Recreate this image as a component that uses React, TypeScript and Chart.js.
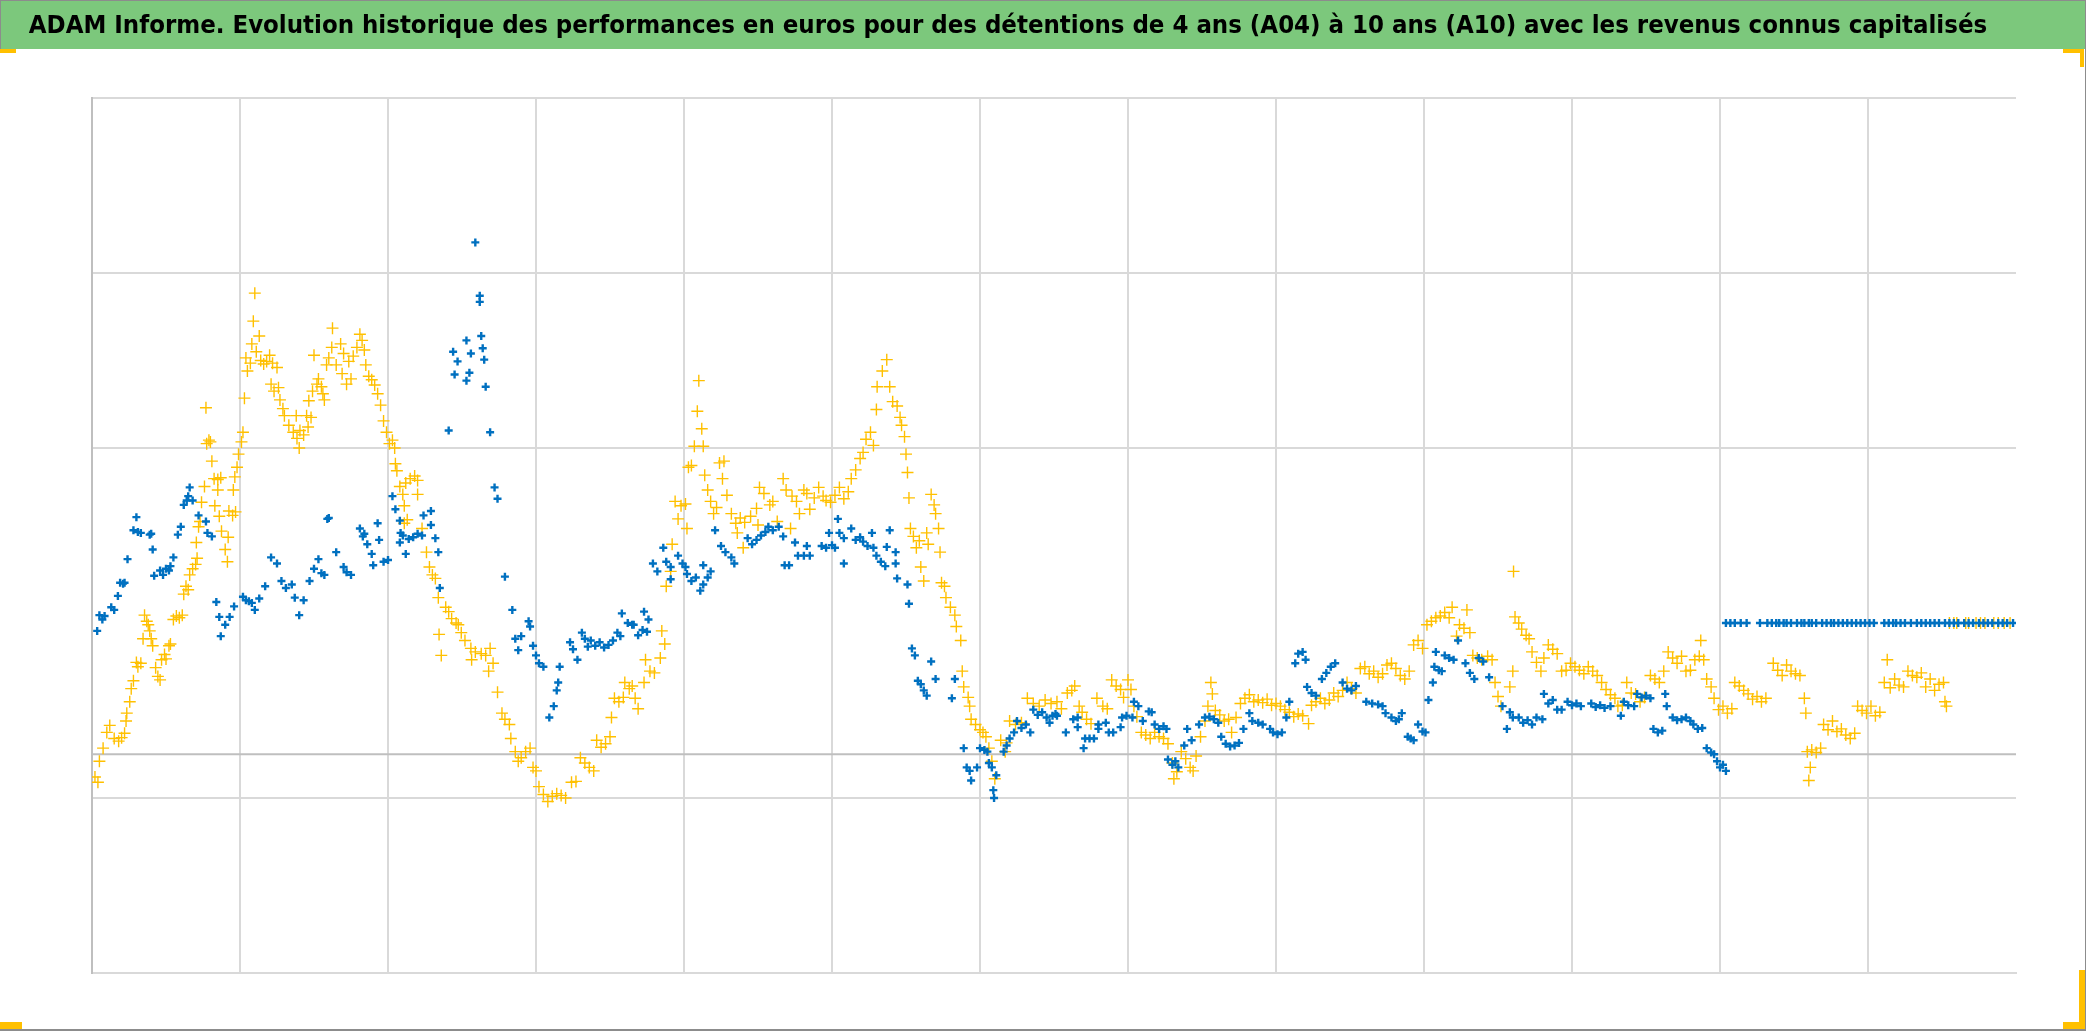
import React, { useEffect, useRef } from "react";
import { Chart, registerables } from "chart.js";

Chart.register(...registerables);

const TITLE =
  "ADAM Informe. Evolution historique des performances en euros pour des détentions de 4 ans (A04) à 10 ans (A10) avec les revenus connus capitalisés";
const TITLE_FAMILY = "'Liberation Sans Narrow', 'DejaVu Sans Condensed', 'Liberation Sans', sans-serif";
const TITLE_TARGET_WIDTH = 1959;

const SERIES_LABELS = ["A04", "A10"];

const X_MIN = 0;
const X_MAX = 130;
const X_STEP = 10;
const Y_MIN = 0;
const Y_MAX = 100;
const Y_STEP = 20;
const HIDDEN_Y_GRID = 40;
const REFERENCE_LEVEL = 25;

// A04 (blue) — [x, y]
const A04_POINTS: [number, number][] = [
  [0.35, 39.1], [0.5, 40.9], [0.7, 40.4], [0.85, 40.8], [1.3, 41.8], [1.5, 41.5], [1.75, 43.1], [1.9, 44.6],
  [2.1, 44.5], [2.2, 44.6], [2.4, 47.3], [2.8, 50.6], [3.0, 52.1], [3.1, 50.4], [3.3, 50.3], [3.9, 50.1],
  [4.0, 50.2], [4.1, 48.4], [4.2, 45.4], [4.6, 46.0], [4.8, 45.5], [5.0, 46.2], [5.2, 46.0], [5.3, 46.5],
  [5.5, 47.5], [5.8, 50.1], [6.0, 51.0], [6.2, 53.5], [6.4, 54.0], [6.5, 54.5], [6.6, 55.5], [6.8, 54.0],
  [7.2, 52.3], [7.7, 51.6], [7.8, 50.3], [8.1, 49.9], [8.4, 42.4], [8.6, 40.7], [8.7, 38.5], [9.0, 39.8],
  [9.3, 40.7], [9.6, 41.9], [10.2, 43.0], [10.4, 42.6], [10.6, 42.5], [10.8, 42.3], [11.0, 41.5], [11.3, 42.8],
  [11.7, 44.2], [12.1, 47.5], [12.5, 46.8], [12.8, 44.8], [13.1, 44.0], [13.5, 44.4], [13.7, 42.9], [14.0, 40.9],
  [14.3, 42.6], [14.7, 44.8], [15.0, 46.2], [15.3, 47.3], [15.5, 45.7], [15.7, 45.5], [15.9, 51.9], [16.0, 52.0],
  [16.5, 48.1], [17.0, 46.4], [17.2, 45.8], [17.5, 45.5], [18.1, 50.8], [18.3, 49.9], [18.4, 50.2], [18.6, 49.0],
  [18.9, 47.9], [19.0, 46.6], [19.3, 51.4], [19.4, 49.5], [19.7, 47.0], [20.0, 47.2], [20.3, 54.5], [20.5, 53.0],
  [20.8, 51.7], [20.85, 50.3], [20.8, 49.2], [21.0, 50.0], [21.2, 47.9], [21.4, 49.6], [21.7, 49.8], [22.0, 50.2],
  [22.3, 50.0], [22.4, 52.3], [22.9, 52.8], [22.9, 51.2], [23.2, 49.7], [23.4, 48.1], [23.5, 44.0], [24.1, 62.0],
  [24.4, 71.0], [24.5, 68.4], [24.7, 69.9], [25.3, 72.3], [25.3, 67.7], [25.5, 68.6], [25.6, 70.8], [25.9, 83.5],
  [26.2, 77.4], [26.2, 76.7], [26.3, 72.8], [26.4, 71.4], [26.5, 70.1], [26.6, 67.0], [26.9, 61.8], [27.2, 55.5],
  [27.4, 54.2], [27.9, 45.3], [28.4, 41.5], [28.6, 38.2], [28.8, 36.9], [29.0, 38.5], [29.5, 40.2], [29.6, 39.6],
  [29.8, 37.4], [30.0, 36.3], [30.2, 35.4], [30.5, 35.0], [30.9, 29.2], [31.2, 30.5], [31.4, 32.3], [31.5, 33.2],
  [31.6, 35.0], [32.3, 37.8], [32.5, 37.0], [32.8, 35.8],
  [33.1, 38.9], [33.3, 38.2], [33.5, 37.3], [33.7, 38.0], [34.0, 37.4], [34.3, 37.8], [34.6, 37.2], [34.9, 37.5],
  [35.2, 38.0], [35.5, 38.9], [35.7, 38.5], [35.8, 41.1], [36.2, 40.0], [36.5, 39.8], [36.6, 39.8], [36.9, 38.6],
  [37.2, 39.2], [37.3, 41.3], [37.5, 39.0], [37.6, 40.4], [37.9, 46.8], [38.2, 45.9], [38.6, 48.6], [38.8, 47.0],
  [39.1, 46.4], [39.1, 45.0], [39.6, 47.7], [39.9, 46.8], [40.1, 46.4], [40.2, 45.6], [40.5, 44.8], [40.8, 45.2],
  [41.1, 43.7], [41.3, 44.4], [41.3, 46.6], [41.6, 45.2], [41.8, 45.9], [42.1, 50.6], [42.5, 48.8], [42.8, 48.1],
  [43.2, 47.5], [43.4, 46.8], [44.3, 49.7], [44.6, 49.0], [44.9, 49.5], [45.2, 50.0], [45.5, 50.4], [45.7, 51.0],
  [46.0, 50.6], [46.4, 51.0], [46.7, 49.9], [46.8, 46.6], [47.1, 46.6], [47.5, 49.2], [47.7, 47.7], [48.1, 47.7],
  [48.3, 48.8], [48.5, 47.7], [49.3, 48.8], [49.6, 48.6], [49.8, 50.3], [50.0, 48.9], [50.2, 48.6], [50.4, 51.9],
  [50.5, 50.3], [50.8, 49.7], [50.8, 46.8], [51.3, 50.8], [51.6, 49.5], [51.9, 49.8], [52.1, 49.3], [52.4, 48.8],
  [52.7, 50.3], [52.8, 48.6], [53.0, 47.7], [53.3, 47.0], [53.6, 46.5], [53.7, 48.7], [53.9, 50.6], [54.3, 48.1],
  [54.3, 46.8], [54.4, 45.1], [55.1, 44.4], [55.2, 42.2], [55.4, 37.1], [55.6, 36.3], [55.8, 33.4], [56.0, 33.0],
  [56.2, 32.3], [56.4, 31.7], [56.7, 35.6], [57.0, 33.6], [58.1, 31.4], [58.3, 33.6], [58.9, 25.7], [59.1, 23.5],
  [59.3, 23.1], [59.4, 22.0], [59.8, 23.5], [60.0, 25.7], [60.3, 25.5], [60.5, 25.3], [60.6, 24.0], [60.8, 23.5],
  [60.9, 20.9], [60.95, 20.0], [61.1, 22.6], [61.6, 25.3], [61.8, 26.0], [62.0, 26.8], [62.3, 27.5], [62.5, 28.8],
  [62.8, 28.0], [63.1, 28.4], [63.4, 27.5], [63.6, 30.1], [63.9, 29.5], [64.2, 29.8], [64.5, 29.2], [64.7, 28.6],
  [64.9, 29.4], [65.1, 29.6], [65.2, 29.4], [65.8, 27.5], [66.3, 29.0], [66.6, 28.1], [66.6, 29.2], [67.0, 25.7],
  [67.1, 26.8], [67.4, 26.8], [67.7, 26.8], [68.0, 28.4], [68.0, 27.9], [68.5, 28.6], [68.7, 27.5], [69.0, 27.5],
  [69.5, 28.1], [69.6, 29.2], [69.9, 29.4], [70.3, 29.2], [70.4, 31.0], [70.7, 30.5], [71.0, 28.8], [71.4, 29.9],
  [71.6, 29.8], [71.8, 28.4], [72.1, 27.9], [72.4, 28.2], [72.6, 27.9], [72.7, 24.4], [73.0, 23.8], [73.2, 24.2],
  [73.4, 23.5], [73.8, 26.0], [74.0, 27.9], [74.3, 26.6], [74.8, 28.4], [75.2, 29.2], [75.5, 29.3], [75.8, 29.0],
  [76.1, 28.6], [76.3, 27.0], [76.6, 26.2], [76.9, 25.9], [77.2, 26.0], [77.5, 26.3], [77.8, 27.9], [78.2, 29.7],
  [78.4, 28.8], [78.8, 28.6], [79.1, 28.4], [79.6, 27.9], [79.8, 27.5], [80.1, 27.3], [80.4, 27.5], [80.7, 29.2],
  [80.9, 31.0], [81.3, 35.4], [81.5, 36.5], [81.8, 36.7], [82.0, 35.8], [82.1, 32.7], [82.4, 32.0], [82.7, 31.7],
  [83.1, 33.6], [83.4, 34.3], [83.7, 35.0], [84.0, 35.4], [84.5, 33.2], [84.8, 32.5], [85.1, 32.3], [85.4, 32.8],
  [86.1, 31.0], [86.5, 30.8], [86.9, 30.7], [87.2, 30.5], [87.4, 29.7], [87.8, 29.2], [88.1, 28.8], [88.3, 29.0],
  [88.5, 29.7], [88.9, 27.0], [89.1, 26.8], [89.3, 26.6], [89.6, 28.4], [89.9, 27.6], [90.1, 27.5], [90.3, 31.2],
  [90.6, 33.2], [90.7, 35.0], [90.8, 36.7], [91.0, 34.6], [91.2, 34.5], [91.4, 36.3], [91.7, 36.0], [92.0, 35.8],
  [92.3, 38.0], [92.8, 35.4], [93.1, 34.3], [93.4, 33.6], [93.7, 36.0], [94.0, 35.6], [94.4, 33.8], [95.3, 30.5],
  [95.6, 27.9], [95.8, 29.8], [96.0, 29.2], [96.4, 29.2], [96.7, 28.6], [97.0, 28.9], [97.3, 28.4], [97.6, 29.2],
  [98.0, 29.0], [98.1, 31.9], [98.4, 30.8], [98.7, 31.2], [99.0, 30.1], [99.3, 30.1], [99.7, 31.0], [100.0, 30.6],
  [100.3, 30.8], [100.6, 30.5], [101.3, 30.8], [101.6, 30.4], [101.9, 30.6], [102.2, 30.3], [102.6, 30.5], [103.3, 29.4],
  [103.5, 31.0], [103.8, 30.6], [104.2, 30.5], [104.4, 31.9], [104.7, 31.5], [105.0, 31.7], [105.3, 31.4], [105.5, 27.9],
  [105.8, 27.5], [106.1, 27.7], [106.3, 31.9], [106.4, 30.5], [106.8, 29.2], [107.1, 28.9], [107.4, 29.0], [107.7, 29.2],
  [108.0, 28.8], [108.2, 28.4], [108.5, 27.9], [108.8, 28.0], [109.1, 25.7], [109.4, 25.2], [109.6, 25.0], [109.8, 24.2],
  [110.0, 23.5], [110.2, 23.8], [110.4, 23.1],
  [110.4, 40], [110.7, 40], [111.0, 40], [111.4, 40], [111.8, 40], [112.7, 40], [113.2, 40], [113.5, 40],
  [113.8, 40], [114.0, 40], [114.3, 40], [114.5, 40], [114.8, 40], [115.2, 40], [115.5, 40], [115.7, 40],
  [116.0, 40], [116.2, 40], [116.5, 40], [116.9, 40], [117.2, 40], [117.5, 40], [117.7, 40], [118.0, 40],
  [118.3, 40], [118.6, 40], [118.9, 40], [119.2, 40], [119.5, 40], [119.8, 40], [120.1, 40], [120.4, 40],
  [121.1, 40], [121.4, 40], [121.7, 40], [121.9, 40], [122.2, 40], [122.5, 40], [122.9, 40], [123.3, 40],
  [123.6, 40], [123.9, 40], [124.2, 40], [124.5, 40], [124.8, 40], [125.2, 40], [125.5, 40], [125.8, 40],
  [126.1, 40], [126.5, 40], [126.8, 40], [127.1, 40], [127.5, 40], [127.8, 40], [128.1, 40], [128.4, 40],
  [128.8, 40], [129.1, 40], [129.4, 40], [129.8, 40],
];

// A10 (gold) — [x, y]
const A10_POINTS: [number, number][] = [
  [0.2, 22.4], [0.4, 21.8], [0.5, 24.2], [0.75, 25.7], [1.0, 27.5], [1.2, 28.3], [1.5, 26.8], [1.8, 26.5],
  [2.0, 26.9], [2.2, 27.4], [2.3, 28.8], [2.35, 29.7], [2.55, 31.0], [2.65, 32.5], [2.8, 33.4], [3.0, 35.5],
  [3.1, 35.0], [3.3, 35.4], [3.45, 38.2], [3.55, 40.9], [3.7, 40.2], [3.8, 39.8], [3.9, 39.1], [4.0, 38.2],
  [4.1, 37.4], [4.3, 34.9], [4.45, 33.9], [4.6, 33.5], [4.7, 35.8], [4.9, 36.4], [5.0, 35.9], [5.2, 37.4],
  [5.3, 37.6], [5.5, 40.4], [5.7, 40.8], [5.9, 40.6], [6.1, 40.9], [6.2, 43.3], [6.35, 44.2], [6.5, 43.8],
  [6.6, 45.5], [6.8, 46.2], [7.0, 46.7], [7.1, 47.4], [7.05, 49.2], [7.2, 51.0], [7.3, 51.6], [7.4, 53.8],
  [7.6, 55.6], [7.75, 60.5], [7.9, 60.9], [8.0, 60.7], [7.7, 64.6], [8.1, 58.5], [8.25, 56.5], [8.5, 56.4],
  [8.7, 56.6], [8.5, 55.2], [8.3, 53.4], [8.6, 52.2], [8.75, 50.5], [9.0, 48.4], [9.15, 47.0], [9.2, 49.8],
  [9.25, 52.8], [9.5, 52.3], [9.7, 52.7], [9.55, 55.2], [9.65, 56.7], [9.8, 57.8], [9.9, 59.3], [10.1, 60.7],
  [10.2, 61.8], [10.3, 65.7], [10.4, 70.3], [10.5, 68.8], [10.7, 69.7], [10.8, 71.9], [10.9, 74.5], [11.0, 77.7],
  [11.3, 72.8], [11.1, 71.0], [11.4, 70.0], [11.6, 69.6], [11.8, 69.9], [12.0, 70.6], [12.2, 69.7], [12.5, 69.2],
  [12.1, 67.3], [12.3, 66.5], [12.6, 66.9], [12.7, 65.5], [12.9, 64.5], [13.0, 63.7], [13.3, 62.6], [13.6, 61.8],
  [13.8, 63.7], [13.85, 61.1], [14.0, 60.0], [14.05, 62.0], [14.3, 61.5], [14.5, 63.7], [14.6, 62.4], [14.8, 63.5],
  [14.65, 65.4], [14.9, 66.5], [15.0, 70.6], [15.2, 67.3], [15.3, 67.9], [15.5, 67.0], [15.6, 66.2], [15.7, 65.5],
  [15.85, 69.5], [16.0, 70.3], [16.2, 71.5], [16.25, 73.7], [16.5, 69.5], [16.8, 71.9], [16.9, 68.5], [17.0, 70.8],
  [17.2, 67.3], [17.35, 69.9], [17.5, 67.9], [17.65, 70.5], [17.9, 71.5], [18.1, 73.0], [18.25, 72.3], [18.4, 71.2],
  [18.5, 69.5], [18.7, 68.2], [18.9, 67.8], [19.1, 67.2], [19.3, 66.2], [19.5, 64.9], [19.7, 63.1], [19.9, 61.8],
  [20.1, 60.5], [20.3, 60.9], [20.45, 60.0], [20.5, 58.2], [20.6, 57.4], [20.8, 55.6], [21.0, 54.7], [21.1, 53.4],
  [21.1, 51.4], [21.3, 51.8], [21.2, 56.0], [21.5, 56.5], [21.8, 56.8], [22.0, 56.3], [22.0, 54.7], [22.3, 50.8],
  [22.6, 48.1], [22.8, 46.4], [23.0, 45.5], [23.2, 45.1], [23.4, 42.9], [23.45, 38.7], [23.6, 36.3], [23.9, 41.8],
  [24.1, 41.3], [24.3, 40.5], [24.6, 40.0], [24.75, 39.8], [24.95, 38.9], [25.2, 38.0], [25.6, 37.1], [25.65, 35.8],
  [25.9, 36.7], [26.3, 36.5], [26.6, 36.3], [26.8, 34.5], [26.9, 37.1], [27.1, 35.4], [27.4, 32.1], [27.7, 29.7],
  [27.9, 29.0], [28.2, 28.4], [28.3, 26.8], [28.6, 25.3], [28.8, 24.2], [29.0, 24.6], [29.3, 25.3], [29.6, 25.7],
  [29.8, 23.5], [30.0, 23.1], [30.2, 21.3], [30.5, 20.4], [30.8, 19.6], [31.1, 20.2], [31.4, 20.5], [31.7, 20.3],
  [32.0, 20.0], [32.4, 21.8], [32.7, 21.9],
  [33.0, 24.6], [33.3, 24.0], [33.6, 23.5], [33.9, 23.1], [34.1, 26.6], [34.4, 25.8], [34.7, 26.2], [35.0, 27.0],
  [35.1, 29.2], [35.3, 31.4], [35.6, 31.0], [35.9, 31.5], [36.0, 33.2], [36.3, 32.5], [36.5, 32.8], [36.7, 31.4],
  [36.9, 30.2], [37.3, 33.2], [37.4, 35.8], [37.7, 34.5], [38.0, 34.3], [38.4, 36.0], [38.5, 39.1], [38.7, 37.6],
  [38.8, 44.2], [39.1, 45.9], [39.2, 49.0], [39.4, 53.9], [39.6, 51.9], [39.8, 53.4], [40.1, 53.6], [40.2, 50.8],
  [40.3, 57.8], [40.5, 58.0], [40.7, 60.2], [41.3, 60.2], [40.9, 64.2], [41.0, 67.7], [41.2, 62.2], [41.4, 56.9],
  [41.6, 55.2], [41.8, 53.9], [42.0, 52.5], [42.2, 53.2], [42.4, 58.3], [42.6, 56.5], [42.7, 58.5], [42.9, 54.6],
  [43.2, 52.5], [43.5, 51.4], [43.6, 50.3], [43.8, 52.0], [44.0, 48.6], [44.1, 51.5], [44.5, 52.2], [44.9, 53.1],
  [45.0, 51.2], [45.1, 55.5], [45.4, 54.8], [45.8, 53.5], [46.0, 53.9], [46.3, 51.6], [46.7, 56.5], [46.9, 55.2],
  [47.2, 50.8], [47.3, 54.5], [47.6, 53.9], [47.8, 52.5], [48.1, 55.2], [48.3, 54.8], [48.5, 53.0], [48.8, 54.3],
  [49.1, 55.5], [49.4, 54.5], [49.6, 54.0], [49.9, 53.8], [50.2, 54.6], [50.5, 55.5], [50.8, 54.2], [51.1, 55.0],
  [51.3, 56.5], [51.6, 57.5], [51.9, 58.8], [52.1, 59.5], [52.3, 61.0], [52.6, 61.8], [52.8, 60.3], [53.0, 64.4],
  [53.05, 67.0], [53.4, 68.8], [53.7, 70.1], [53.9, 67.0], [54.1, 65.3], [54.4, 64.8], [54.6, 63.5], [54.7, 62.6],
  [54.9, 61.3], [55.0, 59.3], [55.1, 57.2], [55.2, 54.3], [55.3, 50.8], [55.5, 49.9], [55.7, 48.6], [55.9, 49.4],
  [56.0, 46.4], [56.2, 44.8], [56.4, 50.3], [56.5, 49.0], [56.7, 54.7], [56.9, 53.5], [57.0, 52.5], [57.2, 50.8],
  [57.3, 48.1], [57.4, 44.6], [57.6, 44.2], [57.7, 42.9], [58.0, 41.8], [58.3, 40.9], [58.4, 39.6], [58.7, 38.0],
  [58.8, 34.5], [58.9, 32.7], [59.2, 31.5], [59.3, 30.5], [59.4, 29.0], [59.7, 28.4], [60.0, 27.8], [60.2, 27.5],
  [60.4, 27.0], [60.6, 25.7], [60.8, 24.2], [61.0, 22.2], [61.4, 26.6], [61.7, 25.3], [61.8, 26.3], [62.0, 28.8],
  [62.4, 28.4], [62.8, 28.6], [63.2, 31.4], [63.6, 30.8], [64.0, 30.5], [64.4, 31.2], [64.8, 30.8], [65.2, 31.0],
  [65.5, 30.2], [65.9, 32.0], [66.2, 32.3], [66.4, 32.8], [66.7, 30.5], [66.9, 29.8], [67.2, 29.0], [67.5, 28.5],
  [67.9, 31.4], [68.3, 30.5], [68.6, 30.2], [68.9, 33.5], [69.2, 32.8], [69.5, 32.4], [69.7, 31.5], [70.0, 33.5],
  [70.2, 32.4], [70.4, 30.5], [70.6, 29.3], [70.9, 27.5], [71.2, 27.2], [71.5, 26.8], [71.8, 27.5], [72.1, 27.0],
  [72.4, 26.8], [72.7, 26.2], [73.0, 24.0], [73.1, 22.2], [73.3, 23.0], [73.6, 25.3], [73.9, 24.5], [74.2, 23.5],
  [74.4, 23.1], [74.6, 24.8], [74.9, 27.0], [75.2, 28.8], [75.4, 30.5], [75.6, 33.2], [75.7, 31.9], [75.9, 30.0],
  [76.2, 29.5], [76.5, 28.8], [76.8, 29.0], [77.0, 27.5], [77.3, 29.2], [77.6, 30.8], [77.9, 31.4], [78.2, 31.8],
  [78.5, 31.0], [78.8, 31.2], [79.1, 30.9], [79.4, 31.3], [79.7, 30.6], [80.0, 30.8], [80.3, 30.5], [80.6, 30.1],
  [80.9, 29.8], [81.2, 29.3], [81.5, 29.6], [81.8, 29.4], [82.2, 28.5], [82.4, 30.6], [82.7, 31.0], [83.0, 31.4],
  [83.3, 30.8], [83.6, 31.2], [83.9, 32.0], [84.2, 31.6], [84.5, 32.3], [84.8, 33.2], [85.1, 32.5], [85.4, 32.0],
  [85.7, 34.8], [86.0, 35.0], [86.3, 34.2], [86.6, 34.5], [86.9, 33.8], [87.2, 34.2], [87.5, 35.2], [87.8, 35.4],
  [88.1, 34.8], [88.4, 34.0], [88.7, 33.6], [89.0, 34.5], [89.3, 37.5], [89.6, 38.0], [89.9, 37.1], [90.2, 39.8],
  [90.5, 40.2], [90.8, 40.6], [91.1, 40.8], [91.4, 41.2], [91.7, 40.6], [91.9, 41.8], [92.2, 38.5], [92.4, 39.8],
  [92.7, 39.4], [92.9, 41.5], [93.1, 38.9], [93.3, 36.3], [93.6, 36.0], [93.9, 35.8], [94.3, 36.2], [94.6, 35.8],
  [94.8, 33.2], [95.0, 31.6], [95.2, 30.5], [95.8, 32.7], [96.0, 34.5], [96.05, 45.9], [96.15, 40.7], [96.4, 40.0],
  [96.6, 39.3], [96.9, 38.6], [97.1, 38.2], [97.3, 36.7], [97.6, 35.5], [97.9, 34.5],
  [98.1, 36.0], [98.4, 37.5], [98.7, 37.0], [99.0, 36.5], [99.3, 34.5], [99.6, 34.6], [99.9, 35.4], [100.2, 35.0],
  [100.5, 34.6], [100.8, 34.2], [101.1, 35.0], [101.4, 34.5], [101.7, 34.0], [102.0, 33.2], [102.3, 32.4], [102.6, 31.8],
  [102.9, 31.4], [103.1, 30.5], [103.4, 30.6], [103.7, 33.2], [104.0, 32.0], [104.3, 31.9], [104.6, 31.0], [104.9, 31.5],
  [105.3, 34.0], [105.6, 33.6], [105.9, 33.2], [106.2, 34.5], [106.5, 36.7], [106.8, 36.0], [107.1, 35.4], [107.4, 36.2],
  [107.7, 34.5], [108.0, 34.6], [108.3, 35.8], [108.6, 36.2], [108.7, 38.0], [108.9, 35.8], [109.1, 33.6], [109.4, 32.7],
  [109.6, 31.4], [109.9, 30.1], [110.2, 30.5], [110.5, 29.7], [110.8, 30.2], [111.0, 33.2], [111.3, 32.8], [111.6, 32.3],
  [111.9, 31.9], [112.2, 31.3], [112.5, 31.6], [112.8, 31.0], [113.1, 31.4], [113.6, 35.4], [113.9, 34.6], [114.2, 34.0],
  [114.5, 35.2], [114.8, 34.5], [115.1, 34.2], [115.4, 34.0], [115.7, 31.4], [115.8, 29.7], [115.9, 25.3], [116.0, 22.0],
  [116.1, 23.5], [116.2, 25.5], [116.5, 25.2], [116.8, 25.7], [117.0, 28.4], [117.3, 27.8], [117.6, 28.8], [117.9, 27.6],
  [118.2, 27.9], [118.5, 27.2], [118.8, 26.8], [119.1, 27.4], [119.3, 30.5], [119.6, 30.0], [119.9, 29.7], [120.2, 30.5],
  [120.5, 29.4], [120.8, 29.8], [121.1, 33.2], [121.3, 35.8], [121.5, 32.6], [121.8, 33.6], [122.1, 32.9], [122.4, 32.7],
  [122.7, 34.5], [123.0, 34.0], [123.3, 33.8], [123.6, 34.3], [123.9, 32.7], [124.2, 33.6], [124.5, 32.3], [124.8, 33.0],
  [125.1, 33.2], [125.2, 31.0], [125.3, 30.5],
  [125.5, 40], [125.8, 40], [126.0, 40], [126.6, 40], [126.8, 40], [127.3, 40], [127.6, 40], [127.9, 40],
  [128.5, 40], [128.8, 40], [129.2, 40], [129.6, 40],
];

const REFERENCE_LINE: [number, number][] = [
  [X_MIN, REFERENCE_LEVEL],
  [X_MAX, REFERENCE_LEVEL],
];

const toXY = (pts: [number, number][]) => pts.map(([x, y]) => ({ x, y }));

const framePlugin = {
  id: "excelFrame",
  beforeDraw(chart: any) {
    const { ctx, width, height } = chart;
    ctx.save();
    ctx.fillStyle = "#ffffff";
    ctx.fillRect(0, 0, width, height);
    ctx.fillStyle = "#7cc87c";
    ctx.fillRect(0, 1, width, 48);
    ctx.restore();
  },
  afterDraw(chart: any) {
    const { ctx, width, height } = chart;
    ctx.save();
    ctx.fillStyle = "#8c8c8c";
    ctx.fillRect(0, 0, width, 1);
    ctx.fillRect(0, 0, 1, 49);
    ctx.fillRect(width - 1, 0, 1, height);
    ctx.fillRect(0, height - 2, width, 2);
    ctx.fillStyle = "#ffc000";
    ctx.fillRect(0, 49, 16, 4);
    ctx.fillRect(width - 23, 49, 21, 4);
    ctx.fillRect(width - 6, 49, 4, 18);
    ctx.fillRect(0, height - 9, 22, 7);
    ctx.fillRect(width - 7, height - 61, 6, 59);
    ctx.fillRect(width - 23, height - 9, 22, 7);
    ctx.restore();
  },
};

function titleFontSize(): number {
  const probe = document.createElement("canvas").getContext("2d");
  if (!probe) return 27;
  probe.font = `bold 100px ${TITLE_FAMILY}`;
  const w = probe.measureText(TITLE).width;
  if (!w) return 27;
  return Math.min(32, (100 * TITLE_TARGET_WIDTH) / w);
}

export default function App() {
  const canvasRef = useRef<HTMLCanvasElement>(null);

  useEffect(() => {
    const canvas = canvasRef.current;
    if (!canvas) return;
    const size = titleFontSize();
    const lineH = size * 1.2;
    const padTop = 26 - lineH / 2;
    const padBottom = 98 - padTop - lineH;
    const chart = new Chart(canvas, {
      type: "scatter",
      data: {
        datasets: [
          {
            label: SERIES_LABELS[0],
            data: toXY(A04_POINTS),
            pointStyle: "cross",
            pointRadius: 4,
            pointBorderWidth: 2.4,
            borderWidth: 2.4,
            borderColor: "#0070c0",
            backgroundColor: "#0070c0",
            pointBorderColor: "#0070c0",
            order: 0,
          },
          {
            label: SERIES_LABELS[1],
            data: toXY(A10_POINTS),
            pointStyle: "cross",
            pointRadius: 6,
            pointBorderWidth: 1.4,
            borderWidth: 1.4,
            borderColor: "#ffc000",
            backgroundColor: "#ffc000",
            pointBorderColor: "#ffc000",
            order: 1,
          },
          {
            label: "référence",
            data: toXY(REFERENCE_LINE),
            showLine: true,
            pointRadius: 0,
            borderColor: "#bfbfbf",
            borderWidth: 2,
            order: 2,
          } as any,
        ],
      },
      options: {
        responsive: false,
        devicePixelRatio: 1,
        animation: false,
        events: [],
        layout: { padding: { left: 0, right: 70, top: 0, bottom: 0 } },
        plugins: {
          legend: { display: false },
          tooltip: { enabled: false },
          title: {
            display: true,
            text: TITLE,
            color: "#000000",
            font: {
              family: TITLE_FAMILY,
              weight: "bold",
              size,
              lineHeight: 1.2,
            },
            padding: { top: padTop, bottom: padBottom },
          },
        },
        scales: {
          x: {
            type: "linear",
            min: X_MIN,
            max: X_MAX,
            ticks: { display: false, stepSize: X_STEP },
            grid: {
              drawTicks: false,
              lineWidth: 2,
              color: (c: any) => (c.tick && c.tick.value === X_MAX ? "rgba(0,0,0,0)" : "#d9d9d9"),
            },
            border: { display: true, color: "#d9d9d9", width: 2 },
            afterFit: (scale: any) => {
              scale.height = 58;
            },
          },
          y: {
            type: "linear",
            min: Y_MIN,
            max: Y_MAX,
            ticks: { display: false, stepSize: Y_STEP },
            grid: {
              drawTicks: false,
              lineWidth: 2,
              color: (c: any) => (c.tick && c.tick.value === HIDDEN_Y_GRID ? "rgba(0,0,0,0)" : "#d9d9d9"),
            },
            border: { display: true, color: "#bfbfbf", width: 2 },
            afterFit: (scale: any) => {
              scale.width = 92;
            },
          },
        },
      },
      plugins: [framePlugin],
    });
    return () => chart.destroy();
  }, []);

  return (
    <div style={{ position: "fixed", left: 0, top: 0, width: 2086, height: 1031, background: "#ffffff" }}>
      <canvas ref={canvasRef} width={2086} height={1031} style={{ display: "block", width: 2086, height: 1031 }} />
    </div>
  );
}
